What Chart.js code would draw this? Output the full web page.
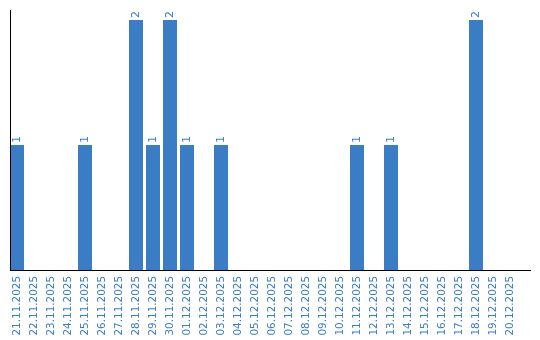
<!DOCTYPE html>
<html>
<head>
<meta charset="utf-8">
<script src="https://cdn.jsdelivr.net/npm/chart.js@4/dist/chart.umd.min.js"></script>
<style>
  html, body { margin: 0; padding: 0; background: #fff; }
  #wrap { width: 540px; height: 340px; }
</style>
</head>
<body>
<div id="wrap"><canvas id="dayChart"></canvas></div>
<script>
const days = [
  '21.11.2025', '22.11.2025', '23.11.2025', '24.11.2025', '25.11.2025',
  '26.11.2025', '27.11.2025', '28.11.2025', '29.11.2025', '30.11.2025',
  '01.12.2025', '02.12.2025', '03.12.2025', '04.12.2025', '05.12.2025',
  '06.12.2025', '07.12.2025', '08.12.2025', '09.12.2025', '10.12.2025',
  '11.12.2025', '12.12.2025', '13.12.2025', '14.12.2025', '15.12.2025',
  '16.12.2025', '17.12.2025', '18.12.2025', '19.12.2025', '20.12.2025'
];
const counts = [
  1, 0, 0, 0, 1, 0, 0, 2, 1, 2,
  1, 0, 1, 0, 0, 0, 0, 0, 0, 0,
  1, 0, 1, 0, 0, 0, 0, 2, 0, 0
];

const blue = '#3a7dc4';

// axis lines + rotated value labels
const extras = {
  id: 'extras',
  afterDatasetsDraw(chart) {
    const ctx = chart.ctx;
    const area = chart.chartArea;
    ctx.save();
    ctx.fillStyle = '#000';
    ctx.fillRect(10, 10, 1, Math.round(area.bottom) - 10 + 1);
    ctx.fillRect(10, Math.round(area.bottom), 521, 1);

    ctx.fillStyle = blue;
    ctx.font = '11px "DejaVu Sans"';
    ctx.textAlign = 'left';
    ctx.textBaseline = 'middle';
    chart.getDatasetMeta(0).data.forEach((bar, i) => {
      if (!counts[i]) return;
      ctx.save();
      ctx.translate(bar.x, bar.y - 2);
      ctx.rotate(-Math.PI / 2);
      ctx.fillText(String(counts[i]), 0, 0);
      ctx.restore();
    });
    ctx.restore();
  }
};

new Chart(document.getElementById('dayChart'), {
  type: 'bar',
  data: {
    labels: days,
    datasets: [
      {
        data: counts,
        backgroundColor: blue,
        borderWidth: 0,
        barPercentage: 14 / 17,
        categoryPercentage: 1
      }
    ]
  },
  options: {
    responsive: true,
    maintainAspectRatio: false,
    animation: false,
    layout: { padding: { left: 8.5, right: 21.5, top: 20, bottom: 0 } },
    plugins: { legend: { display: false }, tooltip: { enabled: false } },
    scales: {
      y: { display: false, min: 0, max: 2 },
      x: {
        grid: { display: false, drawTicks: false },
        border: { display: false },
        afterFit(scale) { scale.height = 70; },
        ticks: {
          autoSkip: false,
          minRotation: 90,
          maxRotation: 90,
          padding: 6,
          color: blue,
          font: { family: 'DejaVu Sans', size: 10.4 }
        }
      }
    }
  },
  plugins: [extras]
});
</script>
</body>
</html>
